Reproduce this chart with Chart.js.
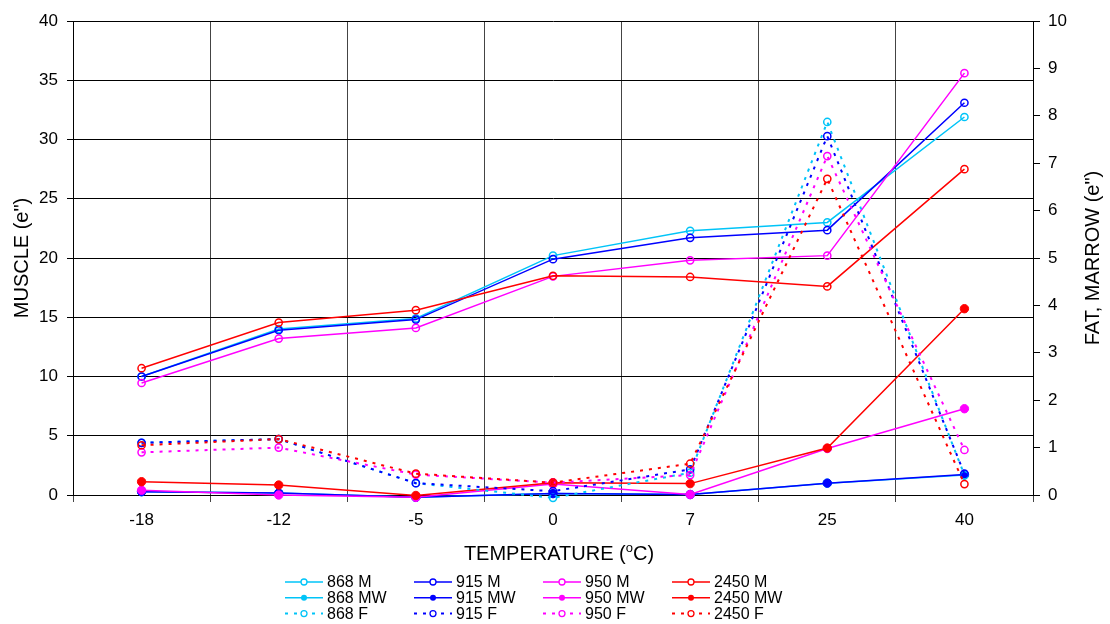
<!DOCTYPE html>
<html>
<head>
<meta charset="utf-8">
<script src="https://cdn.jsdelivr.net/npm/chart.js@4.4.1/dist/chart.umd.min.js"></script>
<style>
  html, body { margin: 0; padding: 0; background: #fff; }
  #c { display: block; }
</style>
</head>
<body>
<canvas id="c" width="1110" height="624"></canvas>
<script>
// x categories (temperature, deg C)
const temps = ['-18', '-12', '-5', '0', '7', '25', '40'];

// muscle, left axis
const m868  = [10.0, 14.0, 14.9, 20.2, 22.3, 23.0, 31.9];
const m915  = [10.0, 13.9, 14.8, 19.9, 21.7, 22.35, 33.1];
const m950  = [9.45, 13.2, 14.1, 18.45, 19.8, 20.2, 35.6];
const m2450 = [10.7, 14.55, 15.6, 18.5, 18.4, 17.6, 27.5];

// marrow, right axis
const mw868  = [0.07, 0.04, -0.05, 0.03, 0.01, 0.25, 0.42];
const mw915  = [0.07, 0.04, -0.05, 0.03, 0.01, 0.25, 0.43];
const mw950  = [0.10, 0.0, -0.05, 0.23, 0.01, 0.98, 1.82];
const mw2450 = [0.28, 0.21, -0.01, 0.26, 0.24, 0.99, 3.93];

// fat, right axis
const f868  = [1.10, 1.18, 0.25, -0.06, 0.47, 7.87, 0.42];
const f915  = [1.10, 1.18, 0.25, 0.08, 0.54, 7.57, 0.45];
const f950  = [0.90, 1.00, 0.43, 0.26, 0.42, 7.15, 0.95];
const f2450 = [1.05, 1.18, 0.45, 0.26, 0.66, 6.67, 0.23];

const FONT = '"Liberation Sans", Arial, sans-serif';
const CYAN = '#00c4f8', BLUE = '#0000ff', MAG = '#ff00ff', RED = '#ff0000';

let idx = 0;
function series(label, data, color, kind) {
  idx++;
  const open = kind !== 'MW';
  return {
    label, data, kind,
    yAxisID: kind === 'M' ? 'y' : 'y1',
    borderColor: color,
    backgroundColor: color,
    borderWidth: kind === 'F' ? 2 : 1.5,
    borderDash: kind === 'F' ? [3, 6] : [],
    pointRadius: open ? 3.6 : 4.2,
    pointBorderWidth: open ? 1.5 : 1,
    pointBackgroundColor: open ? 'rgba(0,0,0,0)' : color,
    pointBorderColor: color,
    tension: 0,
    clip: false,
    order: 100 - idx   // later series on top
  };
}

const datasets = [
  series('868 M', m868, CYAN, 'M'),
  series('915 M', m915, BLUE, 'M'),
  series('950 M', m950, MAG, 'M'),
  series('2450 M', m2450, RED, 'M'),
  series('868 MW', mw868, CYAN, 'MW'),
  series('915 MW', mw915, BLUE, 'MW'),
  series('950 MW', mw950, MAG, 'MW'),
  series('2450 MW', mw2450, RED, 'MW'),
  series('868 F', f868, CYAN, 'F'),
  series('915 F', f915, BLUE, 'F'),
  series('950 F', f950, MAG, 'F'),
  series('2450 F', f2450, RED, 'F')
];

// titles drawn by hand (superscript o, right title reads bottom-to-top) + 4x3 legend
const extras = {
  id: 'extras',
  afterDraw(chart) {
    const ctx = chart.ctx;
    const ca = chart.chartArea;
    ctx.save();
    ctx.fillStyle = '#000';

    // x title
    const t1 = 'TEMPERATURE (', t2 = 'C)';
    ctx.font = '20px ' + FONT;
    const w1 = ctx.measureText(t1).width, w3 = ctx.measureText(t2).width;
    ctx.font = '13px ' + FONT;
    const w2 = ctx.measureText('o').width;
    let x = (ca.left + ca.right) / 2 - (w1 + w2 + w3) / 2 + 6;
    ctx.textBaseline = 'alphabetic';
    ctx.textAlign = 'left';
    ctx.font = '20px ' + FONT;
    ctx.fillText(t1, x, 560);
    ctx.font = '13px ' + FONT;
    ctx.fillText('o', x + w1, 552);
    ctx.font = '20px ' + FONT;
    ctx.fillText(t2, x + w1 + w2, 560);

    // right title
    ctx.save();
    ctx.translate(1093, (ca.top + ca.bottom) / 2);
    ctx.rotate(-Math.PI / 2);
    ctx.textAlign = 'center';
    ctx.textBaseline = 'middle';
    ctx.font = '20px ' + FONT;
    ctx.fillText('FAT, MARROW (e")', 0, 0);
    ctx.restore();

    // legend
    ctx.font = '16px ' + FONT;
    ctx.textBaseline = 'middle';
    chart.data.datasets.forEach((d, i) => {
      const col = i % 4, row = Math.floor(i / 4);
      const x0 = 285 + col * 129;
      const y = 582 + row * 15.8;
      ctx.strokeStyle = d.borderColor;
      ctx.lineWidth = d.kind === 'F' ? 2 : 1.5;
      ctx.setLineDash(d.kind === 'F' ? [3, 6] : []);
      ctx.beginPath();
      ctx.moveTo(x0, y);
      ctx.lineTo(x0 + 38, y);
      ctx.stroke();
      ctx.setLineDash([]);
      ctx.beginPath();
      ctx.arc(x0 + 19, y, 3, 0, Math.PI * 2);
      if (d.kind === 'MW') {
        ctx.fillStyle = d.borderColor;
        ctx.fill();
      } else {
        ctx.fillStyle = '#fff';
        ctx.fill();
        ctx.lineWidth = 1.3;
        ctx.stroke();
      }
      ctx.fillStyle = '#000';
      ctx.fillText(d.label, x0 + 42, y + 1);
    });
    ctx.restore();
  }
};

new Chart(document.getElementById('c'), {
  type: 'line',
  data: { labels: temps, datasets },
  plugins: [extras],
  options: {
    responsive: false,
    animation: false,
    devicePixelRatio: 1,
    layout: { padding: { top: 21, left: 0, right: 0, bottom: 0 } },
    plugins: { legend: { display: false }, tooltip: { enabled: false } },
    scales: {
      x: {
        offset: true,
        grid: { offset: true, color: '#444', lineWidth: 1, tickLength: 7, tickColor: '#444' },
        border: { color: '#000', width: 1 },
        ticks: { color: '#000', font: { family: FONT, size: 17 }, padding: 8 },
        afterFit(s) { s.height = 129; }
      },
      y: {
        position: 'left',
        min: 0, max: 40,
        ticks: { stepSize: 5, color: '#000', font: { family: FONT, size: 17 }, padding: 9 },
        grid: { color: '#000', lineWidth: 1, tickLength: 6 },
        border: { color: '#000', width: 1 },
        title: { display: true, text: 'MUSCLE (e")', color: '#000', font: { family: FONT, size: 20 }, padding: { top: 10, bottom: 0 } },
        afterFit(s) { s.width = 73; }
      },
      y1: {
        position: 'right',
        min: 0, max: 10,
        ticks: { stepSize: 1, color: '#000', font: { family: FONT, size: 17 }, padding: 8 },
        grid: { drawOnChartArea: false, color: '#000', tickLength: 7 },
        border: { color: '#000', width: 1 },
        afterFit(s) { s.width = 77; }
      }
    }
  }
});
</script>
</body>
</html>
